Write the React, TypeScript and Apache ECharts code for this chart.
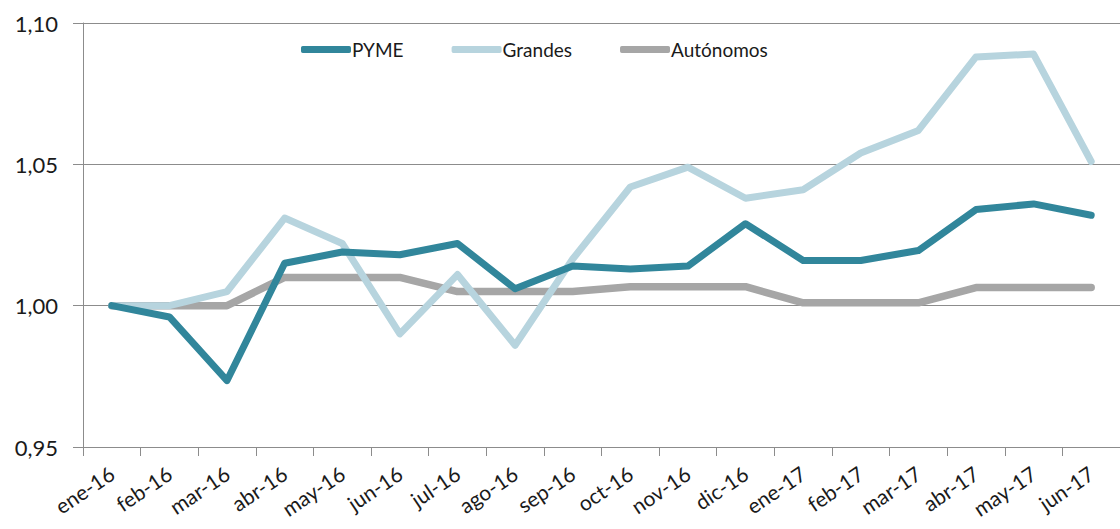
import React, { useEffect, useRef } from "react";
import * as echarts from "echarts";

const categories = [
  "ene-16", "feb-16", "mar-16", "abr-16", "may-16", "jun-16", "jul-16", "ago-16", "sep-16",
  "oct-16", "nov-16", "dic-16", "ene-17", "feb-17", "mar-17", "abr-17", "may-17", "jun-17",
];
const pyme = [1.0, 0.996, 0.9735, 1.015, 1.019, 1.018, 1.022, 1.006, 1.014, 1.013, 1.014, 1.029, 1.016, 1.016, 1.0195, 1.034, 1.036, 1.032];
const grandes = [1.0, 1.0, 1.005, 1.031, 1.022, 0.99, 1.011, 0.986, 1.0165, 1.042, 1.049, 1.038, 1.041, 1.054, 1.062, 1.088, 1.089, 1.051];
const autonomos = [1.0, 1.0, 1.0, 1.01, 1.01, 1.01, 1.005, 1.005, 1.005, 1.0067, 1.0067, 1.0067, 1.001, 1.001, 1.001, 1.0064, 1.0064, 1.0064];

const FONT = "Lato, 'Open Sans', sans-serif";

export default function App() {
  const ref = useRef<HTMLDivElement>(null);
  useEffect(() => {
    document.body.style.margin = "0";
    if (!ref.current) return;
    const chart = echarts.init(ref.current, null, { renderer: "svg" });
    const mk = (name: string, data: number[], color: string, width: number) => ({
      name,
      type: "line",
      data,
      symbol: "none",
      smooth: false,
      lineStyle: { color, width, cap: "round", join: "round" },
      itemStyle: { color },
    });
    chart.setOption({
      animation: false,
      backgroundColor: "#ffffff",
      textStyle: { fontFamily: FONT },
      grid: { left: 83, right: 0, top: 23, bottom: 82, containLabel: false, outerBoundsMode: "none" },
      legend: {
        left: 296,
        top: 35,
        icon: "roundRect",
        itemWidth: 50,
        itemHeight: 7,
        itemGap: 48,
        textStyle: { fontFamily: FONT, fontSize: 19, color: "#1a1a1a", padding: [0, 0, 0, -4] },
        data: ["PYME", "Grandes", "Autónomos"],
      },
      xAxis: {
        type: "category",
        data: categories,
        boundaryGap: true,
        axisLine: { lineStyle: { color: "#8c8c8c", width: 1 } },
        axisTick: { show: true, alignWithLabel: false, length: 9, lineStyle: { color: "#8c8c8c" } },
        axisLabel: {
          rotate: 34,
          interval: 0,
          fontFamily: FONT,
          fontSize: 21,
          color: "#1a1a1a",
          margin: 24,
        },
      },
      yAxis: {
        type: "value",
        min: 0.95,
        max: 1.1,
        interval: 0.05,
        axisLine: { show: true, lineStyle: { color: "#8c8c8c", width: 1 } },
        axisTick: { show: true, length: 10, lineStyle: { color: "#8c8c8c" } },
        splitLine: { show: true, lineStyle: { color: "#8c8c8c", width: 1 } },
        axisLabel: {
          fontFamily: FONT,
          fontSize: 22,
          color: "#1a1a1a",
          margin: 25,
          formatter: (v: number) => v.toFixed(2).replace(".", ","),
        },
      },
      series: [
        mk("Autónomos", autonomos, "#a6a6a6", 7.5),
        mk("Grandes", grandes, "#b7d4de", 7),
        mk("PYME", pyme, "#31869b", 7),
      ],
    });
    return () => chart.dispose();
  }, []);
  return <div ref={ref} style={{ width: 1120, height: 529 }} />;
}
